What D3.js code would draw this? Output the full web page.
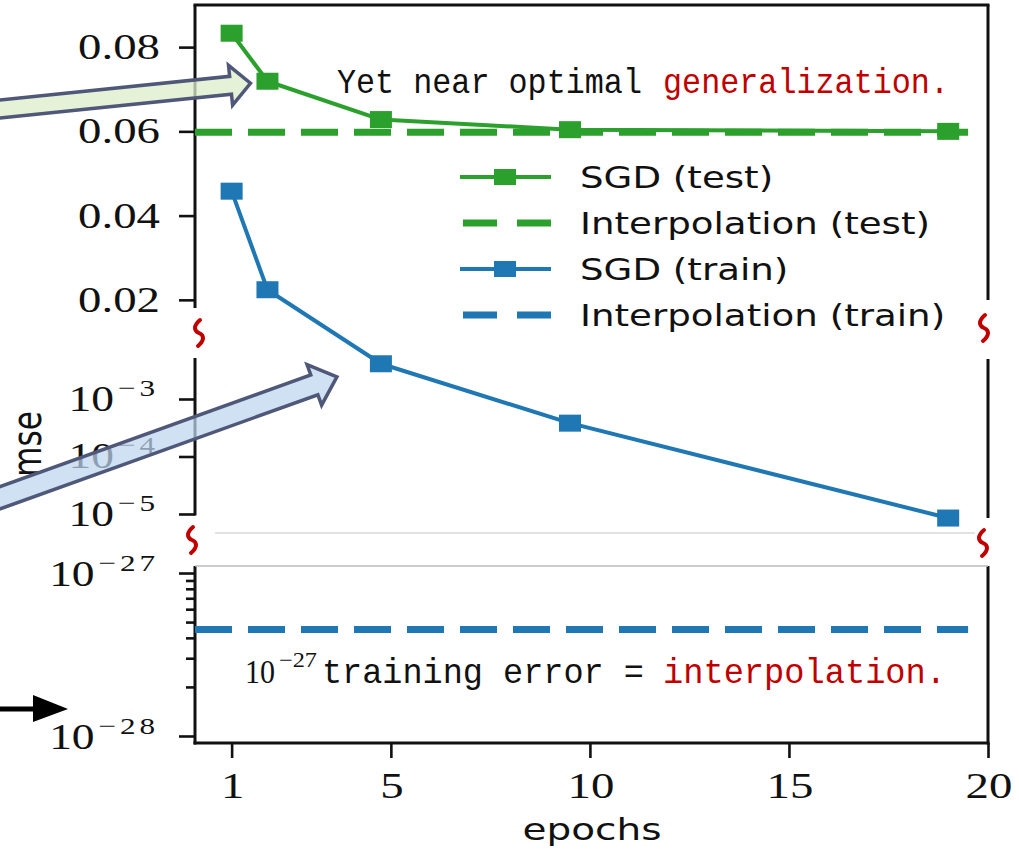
<!DOCTYPE html>
<html>
<head>
<meta charset="utf-8">
<script src="https://cdn.jsdelivr.net/npm/d3@7"></script>
<style>
  html, body { margin: 0; padding: 0; background: #ffffff; }
  svg { display: block; }
</style>
</head>
<body>
<svg id="chart" width="1019" height="855"></svg>
<script>
// ---- data ----
const epochs = [1, 1.9, 4.75, 9.5, 19];
const sgdTest = [0.0833, 0.0719, 0.0628, 0.0604, 0.0600];
const sgdTrain = [0.0458, 0.0224, 4.1e-3, 3.8e-4, 8.5e-6];
const interpTest = 0.0598;
const interpTrain = 4.5e-28;
const xTicks = [1, 5, 10, 15, 20];
const linTicks = [0.02, 0.04, 0.06, 0.08];
const midTicks = [1e-3, 1e-4, 1e-5];
const lowTicks = [1e-27, 1e-28];
const legendLabels = ["SGD (test)", "Interpolation (test)", "SGD (train)", "Interpolation (train)"];

// ---- style ----
const GREEN = "#2ca02c", BLUE = "#1f77b4", RED = "#c00000", INK = "#111111";
const SERIF = "'Liberation Serif', 'Times New Roman', serif";
const SANS = "'DejaVu Sans', sans-serif";
const MONO = "'Liberation Mono', 'DejaVu Sans Mono', monospace";
const SX = 1.3;   // horizontal stretch of the axis lettering

const svg = d3.select("#chart");

// ---- scales: one x, three stacked y panels (broken axis) ----
const x = d3.scaleLinear().domain([0.08, 20]).range([195, 988]);
const yTop = d3.scaleLinear().domain([0.0183, 0.0900]).range([307, 5]);
const yMid = d3.scaleLog().domain([Math.pow(10, -5.035), Math.pow(10, -2.287)]).range([516, 358]);
const yLow = d3.scaleLog().domain([Math.pow(10, -28.043), Math.pow(10, -26.957)]).range([743, 566]);
const yAny = v => v >= 0.015 ? yTop(v) : (v >= 1e-8 ? yMid(v) : yLow(v));

const xL = x.range()[0], xR = x.range()[1];

// ---- frames ----
const frame = svg.append("g").attr("stroke", INK).attr("stroke-width", 3).attr("fill", "none");
// top panel
frame.append("line").attr("x1", xL - 1.5).attr("x2", xR + 1.5).attr("y1", 5).attr("y2", 5);
frame.append("line").attr("x1", xL).attr("x2", xL).attr("y1", 5).attr("y2", 308);
frame.append("line").attr("x1", xR).attr("x2", xR).attr("y1", 5).attr("y2", 300);
// middle panel
frame.append("line").attr("x1", xL).attr("x2", xL).attr("y1", 358).attr("y2", 515.5);
frame.append("line").attr("x1", xR).attr("x2", xR).attr("y1", 359).attr("y2", 518);
// bottom panel
frame.append("line").attr("x1", xL).attr("x2", xL).attr("y1", 566).attr("y2", 744.5);
frame.append("line").attr("x1", xR).attr("x2", xR).attr("y1", 566).attr("y2", 744.5);
frame.append("line").attr("x1", xL - 1.5).attr("x2", xR + 1.5).attr("y1", 743).attr("y2", 743);
// faint separators at the break
svg.append("line").attr("x1", 215).attr("x2", 975).attr("y1", 533).attr("y2", 533)
  .attr("stroke", "#d9d9d9").attr("stroke-width", 1.5);
svg.append("line").attr("x1", xL).attr("x2", xR).attr("y1", 566).attr("y2", 566)
  .attr("stroke", "#bcbcbc").attr("stroke-width", 1.5);

// ---- axes (tick marks via d3 axes, labels drawn separately) ----
function styleAxis(g) {
  g.select(".domain").remove();
  g.selectAll(".tick line").attr("stroke", INK).attr("stroke-width", 2.6);
  g.selectAll(".tick text").remove();
}
svg.append("g").attr("transform", `translate(${xL},0)`)
  .call(d3.axisLeft(yTop).tickValues(linTicks).tickSize(16)).call(styleAxis);
svg.append("g").attr("transform", `translate(${xL},0)`)
  .call(d3.axisLeft(yMid).tickValues(midTicks).tickSize(16)).call(styleAxis);
// bottom panel: decades plus log minor ticks
const lowMinor = d3.range(2, 10).map(k => k * 1e-28);
svg.append("g").attr("transform", `translate(${xL},0)`)
  .call(d3.axisLeft(yLow).tickValues(lowTicks).tickSize(16)).call(styleAxis);
svg.append("g").attr("transform", `translate(${xL},0)`)
  .call(d3.axisLeft(yLow).tickValues(lowMinor).tickSize(9)).call(styleAxis);
svg.append("g").attr("transform", `translate(0,743)`)
  .call(d3.axisBottom(x).tickValues(xTicks).tickSize(15)).call(styleAxis);

// stretched text helper
function stretched(parent, px, py, sx, rot) {
  return parent.append("g")
    .attr("transform", `translate(${px},${py}) scale(${sx},1)` + (rot ? ` rotate(${rot})` : ""))
    .append("text");
}

const labels = svg.append("g").attr("fill", INK);
linTicks.forEach(v => {
  stretched(labels, 160, yTop(v) + 12, SX)
    .attr("text-anchor", "end").attr("font-family", SERIF).attr("font-size", 36)
    .text(d3.format(".2f")(v));
});
function powLabel(v, base) {
  const e = Math.round(Math.log10(v));
  const t = stretched(labels, 159, base, SX)
    .attr("text-anchor", "end").attr("font-family", SERIF).attr("font-size", 35);
  t.append("tspan").text("10");
  t.append("tspan").attr("dx", 3).attr("dy", -15).attr("font-size", 24)
    .attr("letter-spacing", 3).text("\u2212" + Math.abs(e));
}
midTicks.forEach(v => powLabel(v, yMid(v) + 12));
lowTicks.forEach(v => powLabel(v, yLow(v) + 13));
xTicks.forEach(v => {
  stretched(labels, x(v) + 1, 798, SX)
    .attr("text-anchor", "middle").attr("font-family", SERIF).attr("font-size", 36)
    .text(v);
});

// axis titles
stretched(svg, 592, 840, 1.3).attr("text-anchor", "middle")
  .attr("font-family", SANS).attr("font-size", 30).attr("fill", INK).text("epochs");
stretched(svg, 41, 444, SX, -90).attr("text-anchor", "middle")
  .attr("font-family", SANS).attr("font-size", 31).attr("fill", INK).text("mse");

// ---- reference (interpolation) levels ----
svg.append("line")
  .attr("x1", x(0.08)).attr("x2", x(19.5))
  .attr("y1", yTop(interpTest)).attr("y2", yTop(interpTest))
  .attr("stroke", GREEN).attr("stroke-width", 7).attr("stroke-dasharray", "37,16");
svg.append("line")
  .attr("x1", x(0.08)).attr("x2", x(19.5))
  .attr("y1", yLow(interpTrain)).attr("y2", yLow(interpTrain))
  .attr("stroke", BLUE).attr("stroke-width", 7).attr("stroke-dasharray", "37,16");

// ---- SGD curves ----
const MW = 22, MH = 17;
function series(values, color) {
  const pts = epochs.map((e, i) => [x(e), yAny(values[i])]);
  svg.append("path").datum(pts)
    .attr("d", d3.line())
    .attr("fill", "none").attr("stroke", color).attr("stroke-width", 4)
    .attr("stroke-linejoin", "round");
  svg.append("g").selectAll("rect").data(pts).join("rect")
    .attr("x", d => d[0] - MW / 2).attr("y", d => d[1] - MH / 2)
    .attr("width", MW).attr("height", MH).attr("fill", color);
  return pts;
}
const testPts = series(sgdTest, GREEN);
const trainPts = series(sgdTrain, BLUE);

// ---- legend ----
const legend = svg.append("g");
const legendRows = [
  { color: GREEN, dashed: false }, { color: GREEN, dashed: true },
  { color: BLUE, dashed: false }, { color: BLUE, dashed: true }
];
legendRows.forEach((r, i) => {
  const cy = 177 + i * 46;
  if (r.dashed) {
    legend.append("line").attr("x1", 463).attr("x2", 551).attr("y1", cy).attr("y2", cy)
      .attr("stroke", r.color).attr("stroke-width", 7).attr("stroke-dasharray", "34,20");
  } else {
    legend.append("line").attr("x1", 460).attr("x2", 551).attr("y1", cy).attr("y2", cy)
      .attr("stroke", r.color).attr("stroke-width", 4);
    legend.append("rect").attr("x", 505 - MW / 2).attr("y", cy - 8).attr("width", MW).attr("height", 16)
      .attr("fill", r.color);
  }
  stretched(legend, 580, cy + 11, 1.26).attr("font-family", SANS).attr("font-size", 29.5)
    .attr("fill", INK).text(legendLabels[i]);
});

// ---- annotations (fixed-pitch lettering) ----
function noteText(px, py, str, color, width, family, size) {
  return svg.append("text").attr("x", px).attr("y", py)
    .attr("font-family", family || MONO).attr("font-size", size || 35).attr("fill", color)
    .attr("textLength", width).attr("lengthAdjust", "spacingAndGlyphs").text(str);
}
noteText(337, 93, "Yet near optimal", INK, 305);
noteText(663, 93, "generalization.", RED, 286);

noteText(245, 683, "10", INK, 30, SERIF, 33);
noteText(279, 667, "\u221227", INK, 38, SERIF, 21);
noteText(322, 683, "training error =", INK, 322);
noteText(663, 683, "interpolation.", RED, 283);

// ---- break marks ----
function squiggle(cx, cy) {
  return `M${cx + 1},${cy - 13} C${cx - 6},${cy - 7} ${cx - 5},${cy - 2} ${cx},${cy} ` +
         `C${cx + 5},${cy + 2} ${cx + 6},${cy + 7} ${cx - 1},${cy + 13}`;
}
[[199, 333], [984, 328], [192, 540], [983, 543]].forEach(([cx, cy]) => {
  svg.append("path").attr("d", squiggle(cx, cy)).attr("fill", "none")
    .attr("stroke", RED).attr("stroke-width", 4).attr("stroke-linecap", "round");
});

// ---- pointer arrows ----
function blockArrow(tail, tip, shaftW, headW, headL) {
  const dx = tip[0] - tail[0], dy = tip[1] - tail[1];
  const len = Math.hypot(dx, dy), ux = dx / len, uy = dy / len, nx = -uy, ny = ux;
  const bx = tip[0] - ux * headL, by = tip[1] - uy * headL;
  const p = (x0, y0, w) => [x0 + nx * w / 2, y0 + ny * w / 2];
  const pts = [p(tail[0], tail[1], shaftW), p(bx, by, shaftW), p(bx, by, headW), tip,
               p(bx, by, -headW), p(bx, by, -shaftW), p(tail[0], tail[1], -shaftW)];
  return "M" + pts.map(q => q.join(",")).join("L") + "Z";
}
const arrowStroke = "#4f5878";
// points at the second SGD (test) marker
const gTip = [testPts[1][0] - 17, testPts[1][1] + 2];
svg.append("path").attr("d", blockArrow([-20, 111], gTip, 18, 40, 20))
  .attr("fill", "#dcedc9").attr("fill-opacity", 0.75)
  .attr("stroke", arrowStroke).attr("stroke-width", 3.5).attr("stroke-linejoin", "miter");
// points at the third SGD (train) marker
const bTip = [trainPts[2][0] - 44, trainPts[2][1] + 13];
svg.append("path").attr("d", blockArrow([-20, 505], bTip, 21, 43, 24))
  .attr("fill", "#bcd6ee").attr("fill-opacity", 0.72)
  .attr("stroke", arrowStroke).attr("stroke-width", 3.5).attr("stroke-linejoin", "miter");

// small black pointer at the lower axis
svg.append("line").attr("x1", -5).attr("x2", 40).attr("y1", 709).attr("y2", 709)
  .attr("stroke", "#000").attr("stroke-width", 5);
svg.append("path").attr("d", "M33,695 L68,709 L33,722 Z").attr("fill", "#000");
</script>
</body>
</html>
